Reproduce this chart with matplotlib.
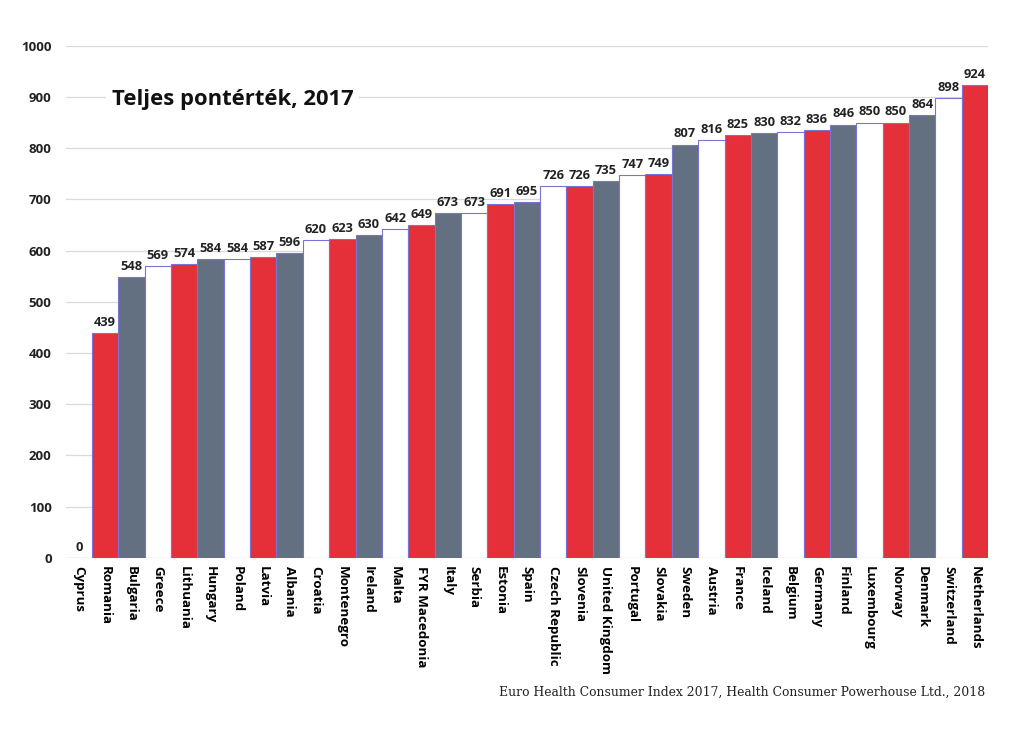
import matplotlib
matplotlib.use('Agg')
import matplotlib.pyplot as plt
import numpy as np

plt.rcParams['font.family'] = ['Open Sans', 'DejaVu Sans']

countries = ['Cyprus', 'Romania', 'Bulgaria', 'Greece', 'Lithuania', 'Hungary', 'Poland',
             'Latvia', 'Albania', 'Croatia', 'Montenegro', 'Ireland', 'Malta', 'FYR Macedonia',
             'Italy', 'Serbia', 'Estonia', 'Spain', 'Czech Republic', 'Slovenia',
             'United Kingdom', 'Portugal', 'Slovakia', 'Sweden', 'Austria', 'France',
             'Iceland', 'Belgium', 'Germany', 'Finland', 'Luxembourg', 'Norway', 'Denmark',
             'Switzerland', 'Netherlands']
scores = [0, 439, 548, 569, 574, 584, 584, 587, 596, 620, 623, 630, 642, 649, 673, 673,
          691, 695, 726, 726, 735, 747, 749, 807, 816, 825, 830, 832, 836, 846, 850, 850,
          864, 898, 924]

# white / red / gray repeating
palette = ['#FFFFFF', '#E5303A', '#637081']
colors = [palette[i % 3] for i in range(len(countries))]

fig = plt.figure(figsize=(10.24, 7.37), dpi=100)
ax = fig.add_axes([0.064, 0.243, 0.901, 0.695])

x = np.arange(len(countries))
ax.bar(x, scores, width=1.0, color=colors, edgecolor='#7B72D6', linewidth=0.8, zorder=2)

for xi, v in zip(x, scores):
    ax.text(xi, v + 8, str(v), ha='center', va='bottom', fontsize=9.3,
            fontweight='bold', color='#222222', zorder=3)

ax.set_xlim(-0.5, len(countries) - 0.5)
ax.set_ylim(0, 1000)
ax.set_yticks(range(0, 1001, 100))
ax.yaxis.grid(True, color='#D9D9D9', linewidth=0.9, zorder=0)
ax.set_axisbelow(True)
for s in ax.spines.values():
    s.set_visible(False)
ax.tick_params(axis='both', length=0)
ax.tick_params(axis='y', pad=10, labelsize=9.5)
ax.tick_params(axis='x', pad=6)
ax.set_xticks(x)
ax.set_xticklabels(countries, rotation=270, fontsize=9.6, fontweight='bold',
                   ha='center', va='top')
for lbl in ax.get_yticklabels():
    lbl.set_fontweight('bold')
    lbl.set_color('#222222')

ax.text(0.05, 0.895, 'Teljes pontérték, 2017', transform=ax.transAxes,
        fontsize=15.8, fontweight='bold', color='#111111', va='center', ha='left',
        bbox=dict(facecolor='white', edgecolor='none', pad=4), zorder=4)

fig.text(0.962, 0.061, 'Euro Health Consumer Index 2017, Health Consumer Powerhouse Ltd., 2018',
         ha='right', va='center', fontsize=8.9, family='DejaVu Serif', color='#222222')

fig.savefig('out.png', dpi=100, facecolor='white')
